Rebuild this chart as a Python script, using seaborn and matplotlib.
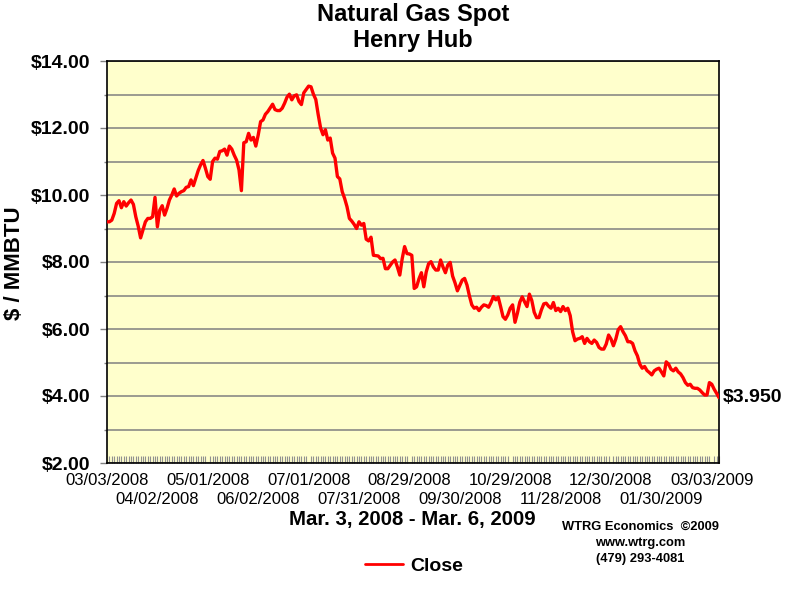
import matplotlib
matplotlib.use("Agg")
import matplotlib.pyplot as plt
import seaborn as sns
import pandas as pd
from matplotlib.ticker import MultipleLocator, FixedLocator, FuncFormatter

# Daily Henry Hub spot close ($/MMBTU), trading days 03/03/2008 .. 03/06/2009
close = [
    9.20, 9.20, 9.25, 9.45, 9.75, 9.83, 9.62, 9.80, 9.67, 9.77,
    9.85, 9.72, 9.35, 9.07, 8.72, 8.96, 9.20, 9.30, 9.30, 9.35,
    9.93, 9.05, 9.55, 9.68, 9.40, 9.60, 9.85, 10.00, 10.18, 9.97,
    10.05, 10.10, 10.13, 10.23, 10.25, 10.45, 10.28, 10.50, 10.73, 10.90,
    11.03, 10.80, 10.55, 10.47, 11.00, 11.10, 11.07, 11.30, 11.32, 11.37,
    11.19, 11.46, 11.37, 11.19, 11.04, 10.75, 10.13, 11.56, 11.59, 11.84,
    11.64, 11.72, 11.46, 11.79, 12.19, 12.24, 12.41, 12.49, 12.60, 12.71,
    12.55, 12.52, 12.52, 12.59, 12.74, 12.92, 13.01, 12.84, 12.96, 12.99,
    12.79, 12.70, 13.05, 13.15, 13.25, 13.23, 13.01, 12.85, 12.40, 12.00,
    11.80, 11.95, 11.64, 11.70, 11.25, 11.10, 10.55, 10.48, 10.10, 9.90,
    9.65, 9.30, 9.22, 9.12, 9.00, 9.20, 9.10, 9.15, 8.68, 8.63,
    8.74, 8.20, 8.19, 8.18, 8.10, 8.11, 7.80, 7.80, 7.90, 8.00,
    8.06, 7.85, 7.61, 8.10, 8.46, 8.25, 8.24, 8.20, 7.21, 7.26,
    7.50, 7.68, 7.26, 7.70, 7.95, 8.01, 7.85, 7.76, 7.76, 8.06,
    7.85, 7.68, 7.91, 7.99, 7.58, 7.38, 7.14, 7.30, 7.46, 7.51,
    7.31, 6.99, 6.72, 6.62, 6.65, 6.55, 6.65, 6.72, 6.70, 6.65,
    6.79, 6.97, 6.87, 6.95, 6.67, 6.37, 6.29, 6.42, 6.62, 6.72,
    6.20, 6.47, 6.80, 6.96, 6.81, 6.67, 7.04, 6.85, 6.50, 6.34,
    6.34, 6.57, 6.75, 6.77, 6.68, 6.62, 6.79, 6.55, 6.62, 6.52,
    6.67, 6.55, 6.62, 6.40, 5.92, 5.65, 5.70, 5.72, 5.77, 5.57,
    5.72, 5.62, 5.57, 5.67, 5.60, 5.45, 5.40, 5.40, 5.55, 5.82,
    5.70, 5.50, 5.70, 5.98, 6.07, 5.92, 5.80, 5.62, 5.62, 5.57,
    5.35, 5.20, 4.95, 4.83, 4.88, 4.76, 4.70, 4.63, 4.75, 4.80,
    4.83, 4.72, 4.60, 5.02, 4.95, 4.80, 4.75, 4.83, 4.72, 4.66,
    4.55, 4.40, 4.32, 4.35, 4.25, 4.23, 4.23, 4.18, 4.10, 4.03,
    4.03, 4.40, 4.35, 4.20, 4.08, 3.95,
]

tick_labels = [
    "03/03/2008", "04/02/2008", "05/01/2008", "06/02/2008", "07/01/2008",
    "07/31/2008", "08/29/2008", "09/30/2008", "10/29/2008", "11/28/2008",
    "12/30/2008", "01/30/2009", "03/03/2009",
]
tick_step = 21  # trading days between labelled dates

title1 = "Natural Gas Spot"
title2 = "Henry Hub"
ylabel = "$ / MMBTU"
date_range = "Mar. 3, 2008 - Mar. 6, 2009"
credits = ["WTRG Economics  \u00a92009", "www.wtrg.com", "(479) 293-4081"]
series_name = "Close"

df = pd.DataFrame({"day": range(len(close)), "close": close})

sns.set_theme(style="white")
FONT = ["Liberation Sans", "DejaVu Sans"]
plt.rcParams["font.family"] = FONT
plt.rcParams["text.color"] = "black"
plt.rcParams["axes.labelcolor"] = "black"
plt.rcParams["xtick.color"] = "black"
plt.rcParams["ytick.color"] = "black"
plt.rcParams["xtick.labelcolor"] = "black"
plt.rcParams["ytick.labelcolor"] = "black"

fig = plt.figure(figsize=(8, 6), dpi=100)
fig.patch.set_facecolor("white")
ax = fig.add_axes([107 / 800, 1 - 463 / 600, 612 / 800, 402 / 600])
ax.set_facecolor("#FFFFCC")

sns.lineplot(data=df, x="day", y="close", ax=ax, color="#FF0000",
             linewidth=2.4, label=series_name, zorder=3)

ax.set_xlim(0, len(close) - 1)
ax.set_ylim(2, 14)

# y axis
ax.yaxis.set_major_locator(MultipleLocator(2))
ax.yaxis.set_minor_locator(MultipleLocator(1))
ax.yaxis.set_major_formatter(FuncFormatter(lambda v, p: f"${v:.2f}"))
ax.grid(True, which="both", axis="y", color="#808080", linewidth=1.1, zorder=1)
ax.tick_params(axis="y", which="major", length=5, width=1, color="#808080",
               labelcolor="black", direction="out", pad=7, left=True)
ax.tick_params(axis="y", which="minor", length=2.3, width=1, color="#808080",
               direction="out", left=True)
for lbl in ax.get_yticklabels():
    lbl.set_fontweight("bold")
    lbl.set_fontsize(14)

# x axis: first row of dates on the main axis, second row on a secondary axis
positions = [i * tick_step for i in range(len(tick_labels))]
ax.xaxis.set_major_locator(FixedLocator(positions[0::2]))
ax.set_xticklabels(tick_labels[0::2], fontsize=12)
ax.xaxis.set_minor_locator(MultipleLocator(1))
ax.tick_params(axis="x", which="major", length=0, pad=7, bottom=True,
               labelcolor="black")
ax.tick_params(axis="x", which="minor", length=5, width=0.8, color="#909090",
               direction="in", bottom=True)

sec = ax.secondary_xaxis("bottom")
sec.set_xticks(positions[1::2])
sec.set_xticklabels(tick_labels[1::2], fontsize=12)
sec.tick_params(axis="x", which="major", length=0, pad=21, labelcolor="black")
sec.tick_params(axis="x", which="minor", length=0)
sec.spines["bottom"].set_visible(False)

ax.set_xlabel("")
ax.set_ylabel("")
for s in ax.spines.values():
    s.set_visible(True)
    s.set_color("black")
    s.set_linewidth(1.2)

# last value annotation
ax.annotate(f"${close[-1]:.3f}", xy=(len(close) - 1, close[-1]),
            xytext=(3, 0), textcoords="offset points", ha="left", va="center",
            fontsize=14, fontweight="bold", color="black", annotation_clip=False)

# titles and texts
fig.text(413 / 800, 1 - 15 / 600, title1, ha="center", va="center",
         fontsize=17, fontweight="bold", color="black")
fig.text(413 / 800, 1 - 41 / 600, title2, ha="center", va="center",
         fontsize=17, fontweight="bold", color="black")
fig.text(14 / 800, 1 - 263 / 600, ylabel, rotation=90, ha="center", va="center",
         fontsize=16, fontweight="bold", color="black")
fig.text(412 / 800, 1 - 520 / 600, date_range, ha="center", va="center",
         fontsize=14.7, fontweight="bold", color="black")
for k, t in enumerate(credits):
    fig.text(640 / 800, 1 - (527 + 16 * k) / 600, t, ha="center", va="center",
             fontsize=9.3, fontweight="bold", color="black")

leg = ax.legend(loc="center", bbox_to_anchor=(414 / 800, 1 - 566 / 600),
                bbox_transform=fig.transFigure, frameon=False,
                handlelength=1.95, handletextpad=0.4,
                prop={"weight": "bold", "size": 14})
for line in leg.get_lines():
    line.set_linewidth(2)
for txt in leg.get_texts():
    txt.set_color("black")

fig.savefig("out.png", dpi=100, facecolor="white")
